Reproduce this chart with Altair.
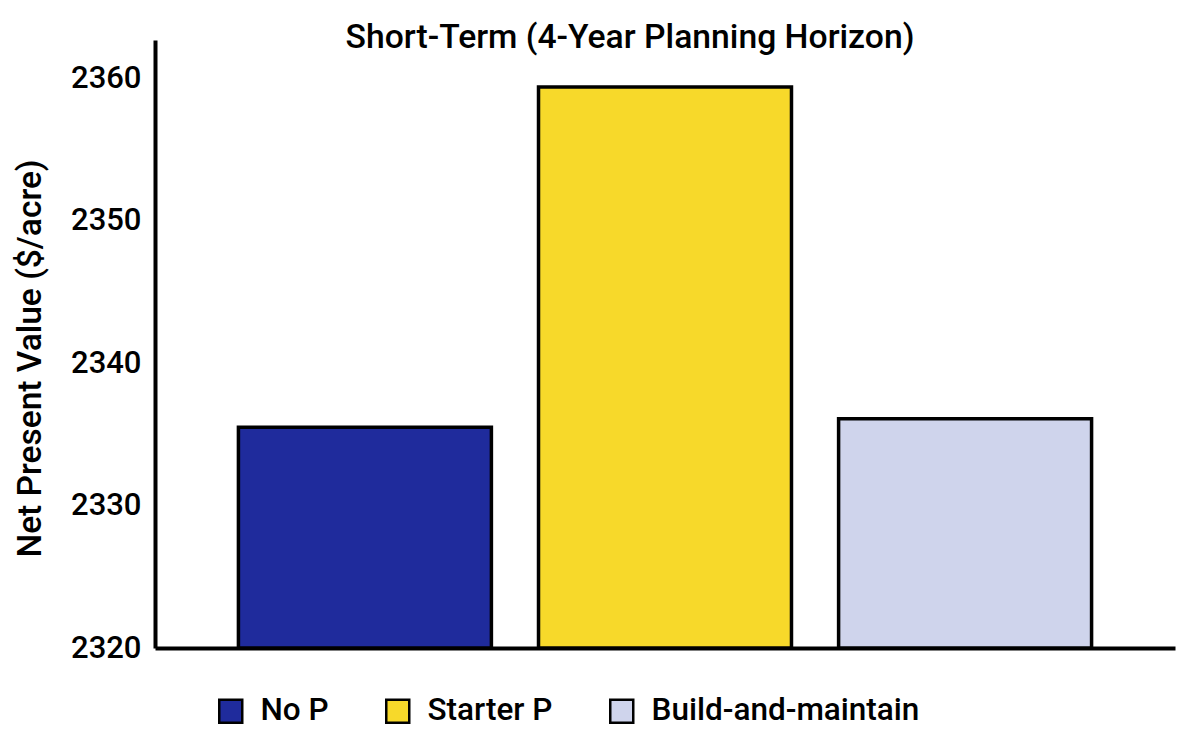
import pandas as pd
import altair as alt

# values
strategies = ["No P", "Starter P", "Build-and-maintain"]
npv = [2335.5, 2359.4, 2336.1]
colors = ["#1f2b9c", "#f7d92a", "#cfd4ec"]
y_ticks = [2320, 2330, 2340, 2350, 2360]
y_min, y_max = 2320, 2362.7

df = pd.DataFrame({"Strategy": strategies, "NPV": npv})

chart = alt.Chart(df).mark_bar(stroke="black", strokeWidth=3.5).encode(
    x=alt.X(
        "Strategy:N",
        sort=strategies,
        title=None,
        scale=alt.Scale(paddingInner=0.157, paddingOuter=0.278),
        axis=alt.Axis(labels=False, ticks=False, domainWidth=4, domainColor="black"),
    ),
    y=alt.Y(
        "NPV:Q",
        title="Net Present Value ($/acre)",
        scale=alt.Scale(domain=[y_min, y_max], nice=False, zero=False),
        axis=alt.Axis(
            values=y_ticks,
            format="d",
            ticks=False,
            grid=False,
            domainWidth=4,
            domainColor="black",
            labelFont="Roboto",
            labelFontWeight=500,
            labelFontSize=31,
            labelColor="black",
            labelPadding=14,
            labelFlush=False,
            titleFont="Roboto",
            titleFontWeight=500,
            titleFontSize=33.5,
            titleColor="black",
            titleX=-125,
            titleY=318,
            titleAlign="center",
            titleBaseline="middle",
        ),
    ),
    y2=alt.datum(y_min),
    color=alt.Color(
        "Strategy:N",
        sort=strategies,
        scale=alt.Scale(domain=strategies, range=colors),
        legend=alt.Legend(
            title=None,
            orient="none",
            direction="horizontal",
            legendX=60,
            legendY=655,
            symbolType="square",
            symbolSize=529,
            symbolStrokeColor="black",
            symbolStrokeWidth=2.5,
            labelFont="Roboto",
            labelFontWeight=500,
            labelFontSize=31.5,
            labelColor="black",
            labelLimit=0,
            labelOffset=14,
            columnPadding=52,
        ),
    ),
).properties(
    width=1020,
    height=608,
    autosize=alt.AutoSizeParams(type="none"),
    padding={"left": 147, "top": 32, "right": 17, "bottom": 86},
    title=alt.TitleParams(
        "Short-Term (4-Year Planning Horizon)",
        font="Roboto",
        fontWeight=500,
        fontSize=33.7,
        color="black",
        anchor="middle",
        dx=-35,
        dy=15,
        offset=0,
    ),
).configure_view(
    strokeWidth=0
)

chart.save("out.html", embed_options={"renderer": "svg", "actions": False})
